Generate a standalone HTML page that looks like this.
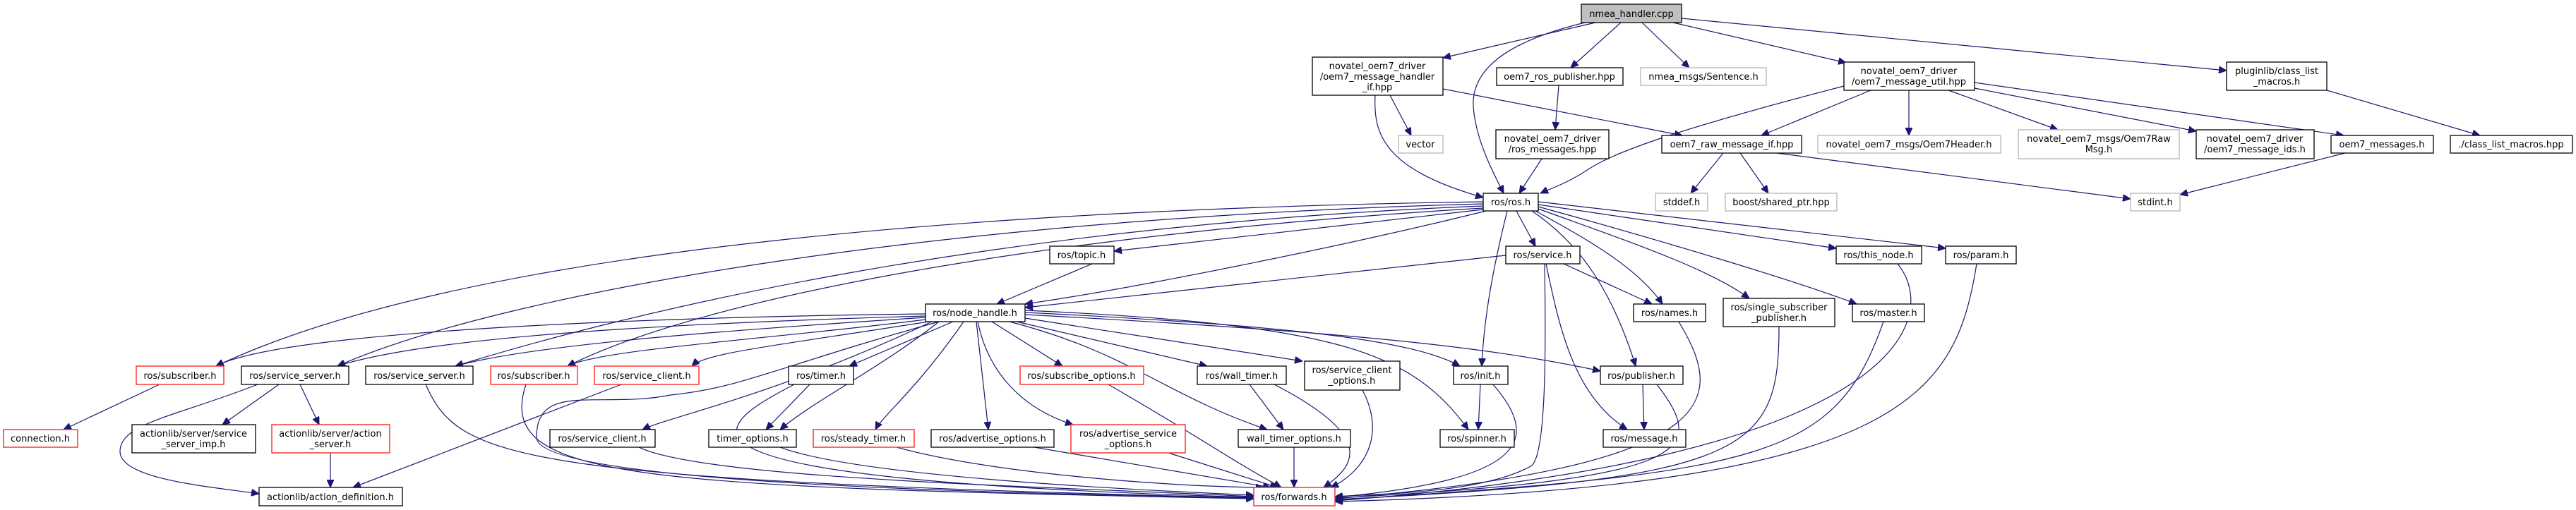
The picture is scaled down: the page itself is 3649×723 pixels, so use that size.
<!DOCTYPE html>
<html><head><meta charset="utf-8"><style>
html,body{margin:0;padding:0;background:#fff;width:3649px;height:723px;overflow:hidden}
svg{display:block}
text{font-family:"DejaVu Sans","Liberation Sans",sans-serif;font-size:13px;fill:#000;text-anchor:middle}
.n{fill:#fff;stroke:#000;stroke-width:1.3}
.r{fill:#fff;stroke:#f33;stroke-width:1.5}
.g{fill:#fff;stroke:#bfbfbf;stroke-width:1.5}
.e path{fill:none;stroke:#191970;stroke-width:1.2;marker-end:url(#a)}
</style></head><body>
<svg width="3649" height="723" viewBox="0 0 3649 723" xmlns="http://www.w3.org/2000/svg">
<defs><marker id="a" markerUnits="userSpaceOnUse" markerWidth="12" markerHeight="10" refX="11" refY="5" orient="auto"><path d="M0,0 L11,5 L0,10 z" fill="#191970" stroke="#191970"/></marker></defs>
<g class="e">
<path d="M2260,32 L2044,82"/>
<path d="M2245,32 C2130,60 2085,100 2087,150 C2090,200 2118,250 2130,274"/>
<path d="M2296,32 L2225,96"/>
<path d="M2326,32 L2393,96"/>
<path d="M2370,32 L2615,89"/>
<path d="M2382,26 L3154,100"/>
<path d="M1969,135 L1999,192"/>
<path d="M1948,135 C1945,190 1960,240 2101,280"/>
<path d="M2044,126 L2383,192"/>
<path d="M2208,121 L2203,184"/>
<path d="M2184,225 L2152,274"/>
<path d="M2612,122 C2350,190 2280,220 2250,240 C2220,260 2195,268 2182,274"/>
<path d="M2650,128 L2495,192"/>
<path d="M2704,128 L2704,192"/>
<path d="M2760,128 L2915,184"/>
<path d="M2797,125 L3111,186"/>
<path d="M2797,117 L3320,192"/>
<path d="M2441,217 L2395,274"/>
<path d="M2465,217 L2505,274"/>
<path d="M2517,217 L3018,282"/>
<path d="M3322,217 L3088,276"/>
<path d="M3296,128 L3513,192"/>
<path d="M2101,297 L1578,356"/>
<path d="M2105,299 C1900,350 1600,410 1452,431"/>
<path d="M2133,362 L1452,436"/>
<path d="M2148,299 L2175,349"/>
<path d="M2179,290 L2601,352"/>
<path d="M2179,286 L2756,352"/>
<path d="M2175,299 C2250,340 2320,380 2355,431"/>
<path d="M2179,296 C2300,340 2420,380 2478,423"/>
<path d="M2179,293 C2350,340 2550,400 2630,431"/>
<path d="M2135,299 C2115,380 2102,450 2099,519"/>
<path d="M2170,299 C2230,340 2280,400 2317,519"/>
<path d="M2101,286 C1200,300 600,380 306,519"/>
<path d="M2101,289 C1300,310 700,420 478,519"/>
<path d="M2101,292 C1400,320 900,440 645,519"/>
<path d="M2101,295 C1500,330 1000,420 804,519"/>
<path d="M2215,374 L2340,431"/>
<path d="M2190,374 C2210,470 2230,560 2305,609"/>
<path d="M2188,374 C2190,500 2190,640 2170,660 C2100,700 1950,700 1891,704"/>
<path d="M1547,374 L1412,431"/>
<path d="M1311,445 C900,450 400,470 306,519"/>
<path d="M1311,448 C900,460 600,480 478,519"/>
<path d="M1311,450 C1000,470 750,490 645,519"/>
<path d="M1311,453 C1100,480 850,495 804,519"/>
<path d="M1315,456 C1100,490 1000,500 980,519"/>
<path d="M1350,456 L1203,519"/>
<path d="M1365,456 C1300,550 1250,590 1240,609"/>
<path d="M1383,456 L1400,609"/>
<path d="M1385,456 C1400,530 1450,580 1520,602"/>
<path d="M1405,456 L1505,519"/>
<path d="M1440,456 L1710,519"/>
<path d="M1452,451 L1845,512"/>
<path d="M1330,456 C1250,520 1150,570 1105,609"/>
<path d="M1320,456 C1100,560 950,590 910,609"/>
<path d="M1430,456 C1600,500 1650,560 1795,609"/>
<path d="M1452,443 C1800,460 2000,480 2068,519"/>
<path d="M1452,446 C1900,470 2100,490 2267,526"/>
<path d="M1452,440 C1900,460 2000,500 2080,609"/>
<path d="M1330,456 C1100,520 1050,550 950,560 C850,580 760,540 760,620 C760,690 1500,700 1776,706"/>
<path d="M880,545 L500,691"/>
<path d="M226,545 L90,609"/>
<path d="M395,545 L315,602"/>
<path d="M425,545 L452,602"/>
<path d="M365,545 C250,590 170,600 170,640 C170,680 300,690 367,700"/>
<path d="M468,642 L468,691"/>
<path d="M603,545 C650,650 720,680 1776,706"/>
<path d="M745,545 C700,680 900,690 1776,707"/>
<path d="M905,634 C1000,680 1500,690 1776,704"/>
<path d="M1147,545 L1085,609"/>
<path d="M1125,545 C1000,610 900,680 1776,705"/>
<path d="M1105,634 C1200,670 1500,690 1776,702"/>
<path d="M1270,634 C1400,670 1650,690 1790,691"/>
<path d="M1465,634 L1800,691"/>
<path d="M1655,642 L1810,691"/>
<path d="M1570,545 C1700,620 1740,650 1815,691"/>
<path d="M1770,545 L1818,609"/>
<path d="M1805,545 C1950,620 1920,660 1875,691"/>
<path d="M1833,634 L1833,691"/>
<path d="M1930,553 C1965,620 1930,670 1885,691"/>
<path d="M2097,545 L2094,609"/>
<path d="M2115,545 C2180,620 2170,680 1891,705"/>
<path d="M2327,545 L2329,609"/>
<path d="M2347,545 C2420,640 2400,680 1891,706"/>
<path d="M2378,456 C2440,560 2460,660 1891,707"/>
<path d="M2520,463 C2520,640 2480,680 1891,708"/>
<path d="M2668,456 C2600,650 2500,670 1891,709"/>
<path d="M2688,374 C2750,450 2700,650 1891,710"/>
<path d="M2800,374 C2770,560 2700,690 1891,711"/>
</g>
<g>
<rect x="2240" y="6" width="142" height="26" fill="#bfbfbf" stroke="#000" stroke-width="1.3"/><text x="2311" y="24">nmea_handler.cpp</text>
<rect class="n" x="1859" y="81" width="185" height="54"/><text x="1951" y="98">novatel_oem7_driver</text><text x="1951" y="113">/oem7_message_handler</text><text x="1951" y="128">_if.hpp</text>
<rect class="n" x="2120" y="96" width="179" height="25"/><text x="2209" y="113">oem7_ros_publisher.hpp</text>
<rect class="g" x="2324" y="96" width="178" height="25"/><text x="2413" y="113">nmea_msgs/Sentence.h</text>
<rect class="n" x="2612" y="88" width="185" height="40"/><text x="2704" y="105">novatel_oem7_driver</text><text x="2704" y="120">/oem7_message_util.hpp</text>
<rect class="n" x="3154" y="88" width="142" height="40"/><text x="3225" y="105">pluginlib/class_list</text><text x="3225" y="120">_macros.h</text>
<rect class="g" x="1981" y="192" width="63" height="25"/><text x="2012" y="209">vector</text>
<rect class="n" x="2119" y="184" width="160" height="41"/><text x="2199" y="201">novatel_oem7_driver</text><text x="2199" y="216">/ros_messages.hpp</text>
<rect class="n" x="2354" y="192" width="198" height="25"/><text x="2453" y="209">oem7_raw_message_if.hpp</text>
<rect class="g" x="2575" y="192" width="259" height="25"/><text x="2704" y="209">novatel_oem7_msgs/Oem7Header.h</text>
<rect class="g" x="2859" y="184" width="228" height="41"/><text x="2973" y="201">novatel_oem7_msgs/Oem7Raw</text><text x="2973" y="216">Msg.h</text>
<rect class="n" x="3111" y="184" width="167" height="41"/><text x="3194" y="201">novatel_oem7_driver</text><text x="3194" y="216">/oem7_message_ids.h</text>
<rect class="n" x="3302" y="192" width="145" height="25"/><text x="3374" y="209">oem7_messages.h</text>
<rect class="n" x="3471" y="192" width="173" height="25"/><text x="3557" y="209">./class_list_macros.hpp</text>
<rect class="n" x="2101" y="274" width="78" height="25"/><text x="2140" y="291">ros/ros.h</text>
<rect class="g" x="2345" y="274" width="74" height="25"/><text x="2382" y="291">stddef.h</text>
<rect class="g" x="2444" y="274" width="158" height="25"/><text x="2523" y="291">boost/shared_ptr.hpp</text>
<rect class="g" x="3018" y="274" width="70" height="25"/><text x="3053" y="291">stdint.h</text>
<rect class="n" x="1487" y="349" width="91" height="25"/><text x="1532" y="366">ros/topic.h</text>
<rect class="n" x="2133" y="349" width="105" height="25"/><text x="2185" y="366">ros/service.h</text>
<rect class="n" x="2601" y="349" width="121" height="25"/><text x="2661" y="366">ros/this_node.h</text>
<rect class="n" x="2756" y="349" width="100" height="25"/><text x="2806" y="366">ros/param.h</text>
<rect class="n" x="1311" y="431" width="141" height="25"/><text x="1381" y="448">ros/node_handle.h</text>
<rect class="n" x="2314" y="431" width="102" height="25"/><text x="2365" y="448">ros/names.h</text>
<rect class="n" x="2441" y="423" width="158" height="40"/><text x="2520" y="440">ros/single_subscriber</text><text x="2520" y="455">_publisher.h</text>
<rect class="n" x="2624" y="431" width="102" height="25"/><text x="2675" y="448">ros/master.h</text>
<rect class="r" x="193" y="519" width="124" height="26"/><text x="255" y="537">ros/subscriber.h</text>
<rect class="n" x="342" y="519" width="152" height="26"/><text x="418" y="537">ros/service_server.h</text>
<rect class="n" x="518" y="519" width="152" height="26"/><text x="594" y="537">ros/service_server.h</text>
<rect class="r" x="695" y="519" width="123" height="26"/><text x="756" y="537">ros/subscriber.h</text>
<rect class="r" x="842" y="519" width="148" height="26"/><text x="916" y="537">ros/service_client.h</text>
<rect class="n" x="1117" y="519" width="92" height="26"/><text x="1163" y="537">ros/timer.h</text>
<rect class="r" x="1445" y="519" width="175" height="26"/><text x="1532" y="537">ros/subscribe_options.h</text>
<rect class="n" x="1696" y="519" width="126" height="26"/><text x="1759" y="537">ros/wall_timer.h</text>
<rect class="n" x="1848" y="512" width="135" height="41"/><text x="1915" y="529">ros/service_client</text><text x="1915" y="544">_options.h</text>
<rect class="n" x="2059" y="519" width="77" height="26"/><text x="2097" y="537">ros/init.h</text>
<rect class="n" x="2267" y="519" width="117" height="26"/><text x="2325" y="537">ros/publisher.h</text>
<rect class="r" x="5" y="609" width="105" height="25"/><text x="57" y="626">connection.h</text>
<rect class="n" x="187" y="602" width="175" height="40"/><text x="274" y="619">actionlib/server/service</text><text x="274" y="634">_server_imp.h</text>
<rect class="r" x="385" y="602" width="167" height="40"/><text x="468" y="619">actionlib/server/action</text><text x="468" y="634">_server.h</text>
<rect class="n" x="779" y="609" width="149" height="25"/><text x="853" y="626">ros/service_client.h</text>
<rect class="n" x="1004" y="609" width="124" height="25"/><text x="1066" y="626">timer_options.h</text>
<rect class="r" x="1152" y="609" width="143" height="25"/><text x="1223" y="626">ros/steady_timer.h</text>
<rect class="n" x="1319" y="609" width="174" height="25"/><text x="1406" y="626">ros/advertise_options.h</text>
<rect class="r" x="1517" y="602" width="162" height="40"/><text x="1598" y="619">ros/advertise_service</text><text x="1598" y="634">_options.h</text>
<rect class="n" x="1754" y="609" width="159" height="25"/><text x="1833" y="626">wall_timer_options.h</text>
<rect class="n" x="2040" y="609" width="105" height="25"/><text x="2092" y="626">ros/spinner.h</text>
<rect class="n" x="2271" y="609" width="117" height="25"/><text x="2329" y="626">ros/message.h</text>
<rect class="n" x="367" y="691" width="203" height="26"/><text x="468" y="709">actionlib/action_definition.h</text>
<rect class="r" x="1776" y="691" width="115" height="26"/><text x="1833" y="709">ros/forwards.h</text>
</g>
</svg>
</body></html>
